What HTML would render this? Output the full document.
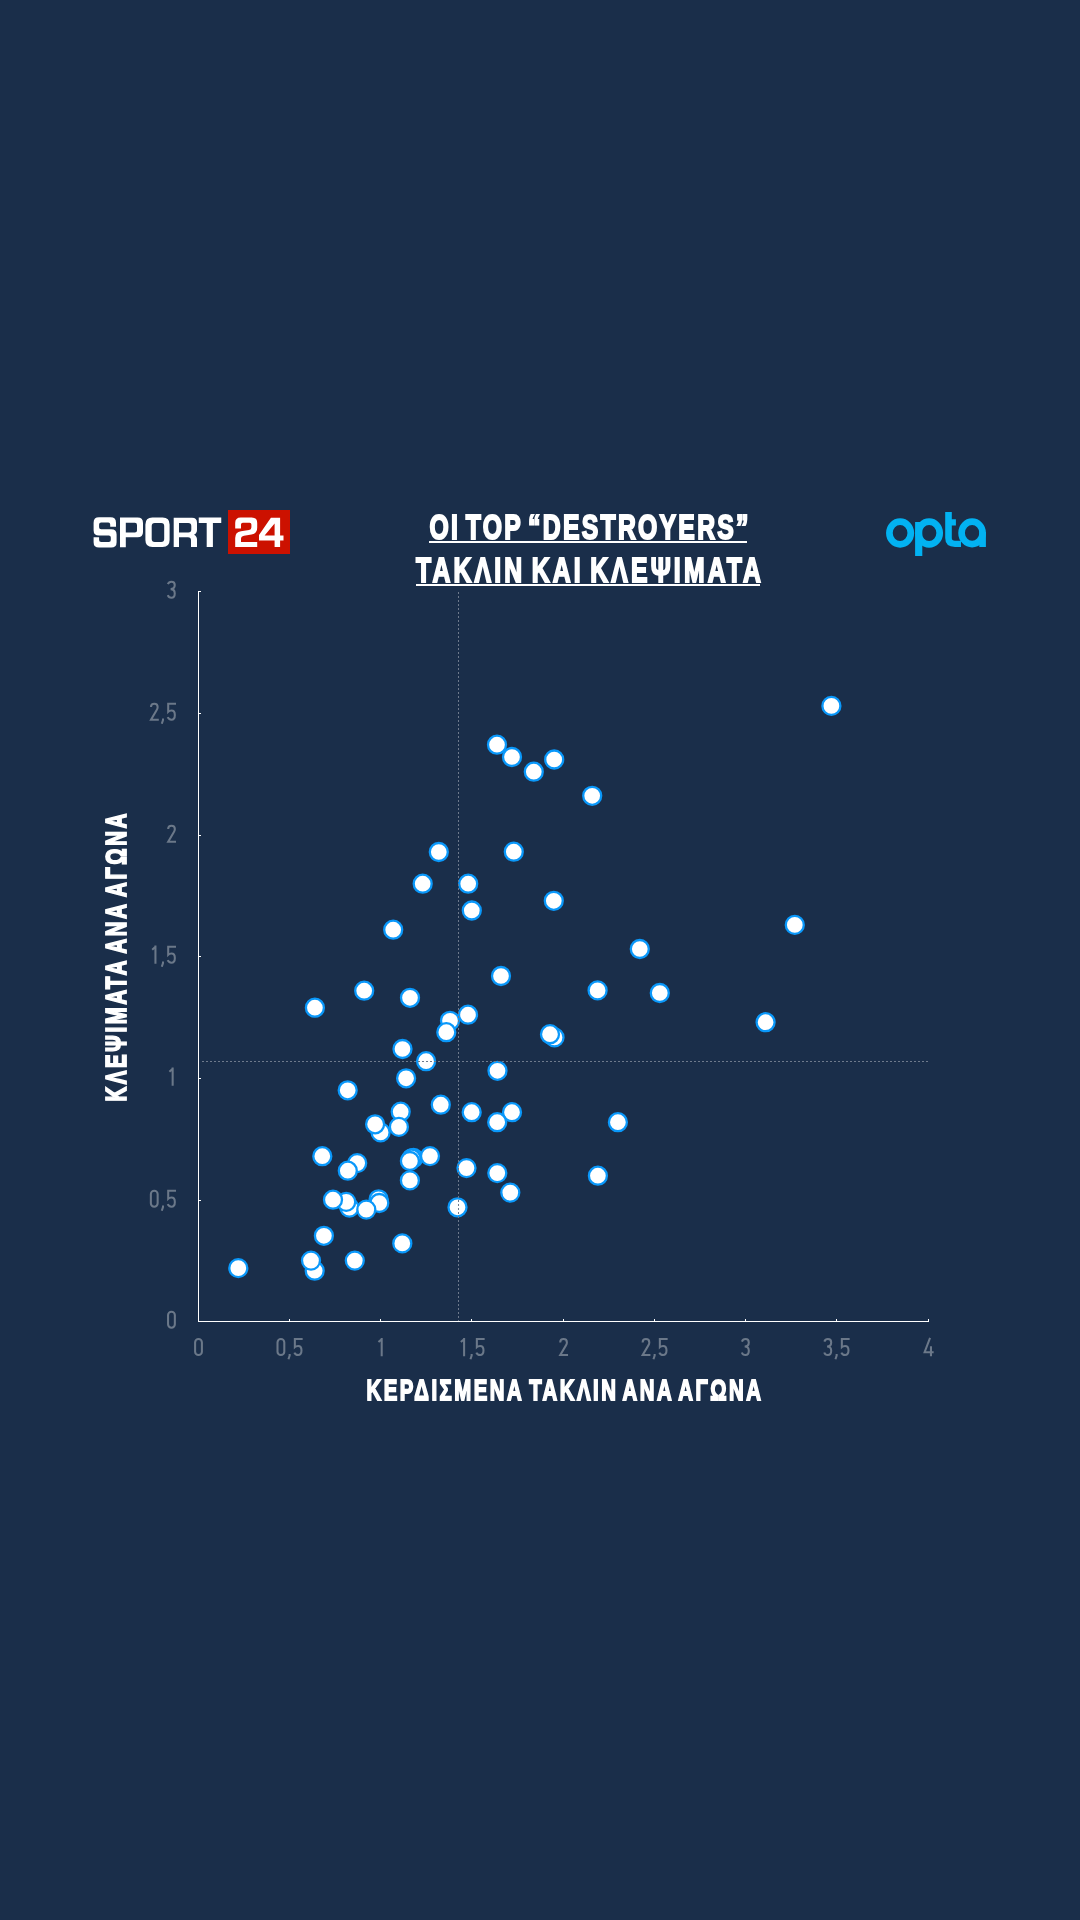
<!DOCTYPE html>
<html><head><meta charset="utf-8">
<style>
html,body{margin:0;padding:0;background:#1a2e4a;}
body{width:1080px;height:1920px;overflow:hidden;}
svg{display:block;will-change:transform;}
text{font-family:"Liberation Sans",sans-serif;}
</style></head>
<body>
<svg width="1080" height="1920" viewBox="0 0 1080 1920">
<rect width="1080" height="1920" fill="#1a2e4a"/>

<g fill="#fff" fill-rule="evenodd">
<path d="M99 517.3H110.6Q116 517.3 116 522.7V526.7H110.2V524.5Q110.2 522.6 108.3 522.6H101.1Q99.1 522.6 99.1 524.6V527.2Q99.1 529.2 101.1 529.2H111.2Q116.6 529.2 116.6 534.6V542.2Q116.6 547.6 111.2 547.6H99Q93.6 547.6 93.6 542.2V537.3H99.1V540Q99.1 542 101.1 542H108.8Q110.8 542 110.8 540V537.6Q110.8 535.6 108.8 535.6H99Q93.6 535.6 93.6 530.2V522.7Q93.6 517.3 99 517.3Z"/>
<path d="M120 517.6H137.6Q143 517.6 143 523V531.9Q143 537.3 137.6 537.3H125.8V547.2H120Z M125.8 522.8H134.9Q137 522.8 137 524.9V530.5Q137 532.6 134.9 532.6H125.8Z"/>
<path d="M152.4 517.5H162.6Q169.6 517.5 169.6 524.5V540Q169.6 547 162.6 547H152.4Q145.4 547 145.4 540V524.5Q145.4 517.5 152.4 517.5Z M154.7 522.9H161.2Q164.2 522.9 164.2 525.9V539Q164.2 542 161.2 542H154.7Q151.7 542 151.7 539V525.9Q151.7 522.9 154.7 522.9Z"/>
<path d="M173.7 517.8H192Q197 517.8 197 522.8V530Q197 533.3 194 534.7Q197 536.1 197 539.5V547H191V540.3Q191 537.3 188 537.3H179V547H173.7Z M179 523H188.3Q191.3 523 191.3 526V529.5Q191.3 532.5 188.3 532.5H179Z"/>
<path d="M198.75 517.5H221.25V523H212.9V547H206.7V523H198.75Z"/>
</g>
<rect x="228" y="510" width="62" height="44" fill="#cc1100"/>
<g fill="#fff" fill-rule="evenodd">
<path d="M235.2 528.5V523Q235.2 517.5 240.7 517.5H251.7Q257.2 517.5 257.2 523V527.5Q257.2 533.5 251.5 534.5L244 535.7Q241 536.2 241 539V541.9H257.2V547.1H235.2V538Q235.2 532 241 531.2L249 530Q251.4 529.6 251.4 527.2V524.5Q251.4 522.7 249.6 522.7H242.8Q241 522.7 241 524.5V528.5Z"/>
<path d="M270.9 517.8H280.1V535.5H283.5V540.4H280.1V547.1H274.6V540.4H259V535Z M274.6 523.5V535.5H264.6Z"/>
</g>

<g fill="#fff" stroke="#fff" stroke-width="2" font-weight="bold" font-size="34.4" style="word-spacing:-5px">
<text transform="translate(429.5 539.3) scale(0.72 1)" x="0" y="0" textLength="443.06" lengthAdjust="spacing">OI TOP “DESTROYERS”</text>
<text transform="translate(416 582.3) scale(0.72 1)" x="0" y="0" textLength="479.17" lengthAdjust="spacing">ΤΑΚΛΙΝ ΚΑΙ ΚΛΕΨΙΜΑΤΑ</text>
</g>
<g fill="#fff">
<rect x="429" y="541" width="318" height="2"/>
<rect x="416" y="584" width="344" height="2"/>
</g>

<g fill="none" stroke="#02b2f2" stroke-width="6.7">
<ellipse cx="900.1" cy="533" rx="10.7" ry="11.4"/>
<ellipse cx="929.1" cy="533" rx="10.6" ry="11.4"/>
<ellipse cx="972.1" cy="532.9" rx="10.5" ry="11.2"/>
</g>
<g fill="#02b2f2">
<rect x="915.1" y="522" width="7.2" height="34"/>
<rect x="979.3" y="532" width="6.6" height="15"/>
<path d="M945.2 511.9H951.8V519.3H955.9V525.4H951.8V538Q951.8 540.8 955 540.8H961V546.9H955Q945.2 546.9 945.2 538Z"/>
</g>

<g fill="#fff">
<rect x="198" y="591" width="1" height="731"/>
<rect x="198" y="1321" width="731" height="1"/>
<path d="M198 591h3v1h-3zM198 713h3v1h-3zM198 835h3v1h-3zM198 956h3v1h-3zM198 1078h3v1h-3zM198 1200h3v1h-3zM289 1319h1v2h-1zM380 1319h1v2h-1zM471 1319h1v2h-1zM563 1319h1v2h-1zM654 1319h1v2h-1zM745 1319h1v2h-1zM836 1319h1v2h-1zM928 1319h1v2h-1z"/>
</g>
<g fill="none" stroke="#6b7889" stroke-width="2.05">
<rect x="150.85" y="1190.65" width="6.8" height="16" rx="3.4"/>
<rect x="168.05" y="1311.65" width="6.8" height="16" rx="3.4"/>
<rect x="195.10" y="1339.05" width="6.8" height="16" rx="3.4"/>
<rect x="277.50" y="1339.05" width="6.8" height="16" rx="3.4"/>
<path d="M167.90 584.20Q168.80 581.65 171.40 581.65Q174.75 581.65 174.75 585.10Q174.75 589.10 170.60 589.10Q174.75 589.10 174.75 593.40Q174.75 597.65 171.40 597.65Q168.70 597.65 167.80 595.10M150.95 707.10Q150.95 703.65 154.30 703.65Q157.65 703.65 157.65 707.00Q157.65 708.50 156.70 710.00L151.00 719.65H158.80M163.00 718.50V720.10L161.80 723.80M176.00 703.65H168.20V711.70Q169.40 710.50 171.40 710.50Q174.85 710.50 174.85 714.90Q174.85 719.65 171.40 719.65Q168.70 719.65 167.70 717.20M168.15 829.10Q168.15 825.65 171.50 825.65Q174.85 825.65 174.85 829.00Q174.85 830.50 173.90 832.00L168.20 841.65H176.00M152.20 949.70L155.45 946.80M155.45 945.50V963.80M163.00 961.50V963.10L161.80 966.80M176.00 946.65H168.20V954.70Q169.40 953.50 171.40 953.50Q174.85 953.50 174.85 957.90Q174.85 962.65 171.40 962.65Q168.70 962.65 167.70 960.20M169.40 1071.70L172.65 1068.80M172.65 1067.50V1085.80M163.00 1205.50V1207.10L161.80 1210.80M176.00 1190.65H168.20V1198.70Q169.40 1197.50 171.40 1197.50Q174.85 1197.50 174.85 1201.90Q174.85 1206.65 171.40 1206.65Q168.70 1206.65 167.70 1204.20M289.65 1353.90V1355.50L288.45 1359.20M302.65 1339.05H294.85V1347.10Q296.05 1345.90 298.05 1345.90Q301.50 1345.90 301.50 1350.30Q301.50 1355.05 298.05 1355.05Q295.35 1355.05 294.35 1352.60M378.45 1342.10L381.70 1339.20M381.70 1337.90V1356.20M460.85 1342.10L464.10 1339.20M464.10 1337.90V1356.20M471.65 1353.90V1355.50L470.45 1359.20M484.65 1339.05H476.85V1347.10Q478.05 1345.90 480.05 1345.90Q483.50 1345.90 483.50 1350.30Q483.50 1355.05 480.05 1355.05Q477.35 1355.05 476.35 1352.60M560.20 1342.50Q560.20 1339.05 563.55 1339.05Q566.90 1339.05 566.90 1342.40Q566.90 1343.90 565.95 1345.40L560.25 1355.05H568.05M642.60 1342.50Q642.60 1339.05 645.95 1339.05Q649.30 1339.05 649.30 1342.40Q649.30 1343.90 648.35 1345.40L642.65 1355.05H650.45M654.65 1353.90V1355.50L653.45 1359.20M667.65 1339.05H659.85V1347.10Q661.05 1345.90 663.05 1345.90Q666.50 1345.90 666.50 1350.30Q666.50 1355.05 663.05 1355.05Q660.35 1355.05 659.35 1352.60M741.95 1341.60Q742.85 1339.05 745.45 1339.05Q748.80 1339.05 748.80 1342.50Q748.80 1346.50 744.65 1346.50Q748.80 1346.50 748.80 1350.80Q748.80 1355.05 745.45 1355.05Q742.75 1355.05 741.85 1352.50M824.35 1341.60Q825.25 1339.05 827.85 1339.05Q831.20 1339.05 831.20 1342.50Q831.20 1346.50 827.05 1346.50Q831.20 1346.50 831.20 1350.80Q831.20 1355.05 827.85 1355.05Q825.15 1355.05 824.25 1352.50M836.65 1353.90V1355.50L835.45 1359.20M849.65 1339.05H841.85V1347.10Q843.05 1345.90 845.05 1345.90Q848.50 1345.90 848.50 1350.30Q848.50 1355.05 845.05 1355.05Q842.35 1355.05 841.35 1352.60M930.05 1337.90L924.60 1352.20H933.65M930.95 1346.20V1356.20"/>
</g>
<g fill="#fff" stroke="#0a98fa" stroke-width="2.3">
<circle cx="497" cy="744.7" r="9"/>
<circle cx="512" cy="757" r="9"/>
<circle cx="533.8" cy="771.7" r="9"/>
<circle cx="554.2" cy="759.5" r="9"/>
<circle cx="592.2" cy="795.8" r="9"/>
<circle cx="513.8" cy="851.7" r="9"/>
<circle cx="438.8" cy="852" r="9"/>
<circle cx="422.7" cy="883.7" r="9"/>
<circle cx="468.2" cy="883.7" r="9"/>
<circle cx="553.8" cy="900.8" r="9"/>
<circle cx="471.8" cy="910.5" r="9"/>
<circle cx="393.2" cy="929.7" r="9"/>
<circle cx="501" cy="976" r="9"/>
<circle cx="410" cy="997.8" r="9"/>
<circle cx="364.2" cy="990.7" r="9"/>
<circle cx="314.9" cy="1007.7" r="9"/>
<circle cx="402.5" cy="1049" r="9"/>
<circle cx="426.1" cy="1061.2" r="9"/>
<circle cx="450" cy="1020.8" r="9"/>
<circle cx="446.3" cy="1032.2" r="9"/>
<circle cx="406.1" cy="1078.3" r="9"/>
<circle cx="347.7" cy="1090.3" r="9"/>
<circle cx="440.8" cy="1104.7" r="9"/>
<circle cx="471.7" cy="1112.2" r="9"/>
<circle cx="400.7" cy="1111.7" r="9"/>
<circle cx="380.6" cy="1132.4" r="9"/>
<circle cx="375.1" cy="1124.3" r="9"/>
<circle cx="398.9" cy="1126.9" r="9"/>
<circle cx="322.3" cy="1156.2" r="9"/>
<circle cx="357.2" cy="1163.1" r="9"/>
<circle cx="347.8" cy="1170.7" r="9"/>
<circle cx="413.5" cy="1158" r="9"/>
<circle cx="411.5" cy="1158.5" r="9"/>
<circle cx="409.9" cy="1161" r="9"/>
<circle cx="430" cy="1156.1" r="9"/>
<circle cx="466.5" cy="1168.1" r="9"/>
<circle cx="409.9" cy="1180.4" r="9"/>
<circle cx="349.4" cy="1207.6" r="9"/>
<circle cx="346.2" cy="1201.9" r="9"/>
<circle cx="333" cy="1199.7" r="9"/>
<circle cx="378.6" cy="1199.3" r="9"/>
<circle cx="379.3" cy="1203" r="9"/>
<circle cx="366.3" cy="1209.6" r="9"/>
<circle cx="457.5" cy="1207.3" r="9"/>
<circle cx="323.9" cy="1235.8" r="9"/>
<circle cx="402.3" cy="1243.4" r="9"/>
<circle cx="468" cy="1014.7" r="9"/>
<circle cx="554.5" cy="1037.4" r="9"/>
<circle cx="550" cy="1034.2" r="9"/>
<circle cx="497.5" cy="1070.8" r="9"/>
<circle cx="512" cy="1112.2" r="9"/>
<circle cx="497.2" cy="1122.2" r="9"/>
<circle cx="238.3" cy="1268.1" r="9"/>
<circle cx="314.7" cy="1270.7" r="9"/>
<circle cx="311" cy="1260.6" r="9"/>
<circle cx="354.8" cy="1260.6" r="9"/>
<circle cx="639.8" cy="949" r="9"/>
<circle cx="597.6" cy="990.4" r="9"/>
<circle cx="659.8" cy="993" r="9"/>
<circle cx="617.9" cy="1122.2" r="9"/>
<circle cx="497.3" cy="1173.1" r="9"/>
<circle cx="510.3" cy="1192.6" r="9"/>
<circle cx="597.9" cy="1175.7" r="9"/>
<circle cx="831.4" cy="705.9" r="9"/>
<circle cx="794.8" cy="924.9" r="9"/>
<circle cx="765.6" cy="1022.2" r="9"/>
</g>
<g stroke="#6e7a8c" stroke-width="1" stroke-dasharray="2 2" fill="none">
<path d="M458.5 592V1321"/>
<path d="M202 1061.5H928"/>
</g>
<g fill="#fff" stroke="#fff" stroke-width="1.8" font-weight="bold" font-size="29.1" style="word-spacing:-4.5px">
<text transform="translate(366.5 1399.6) scale(0.7 1)" x="0" y="0" textLength="563.57" lengthAdjust="spacing">ΚΕΡΔΙΣΜΕΝΑ ΤΑΚΛΙΝ ΑΝΑ ΑΓΩΝΑ</text>
<text transform="translate(126 1101.6) rotate(-90) scale(0.7 1)" x="0" y="0" textLength="411.43" lengthAdjust="spacing">ΚΛΕΨΙΜΑΤΑ ΑΝΑ ΑΓΩΝΑ</text>
</g>
</svg>
</body></html>
